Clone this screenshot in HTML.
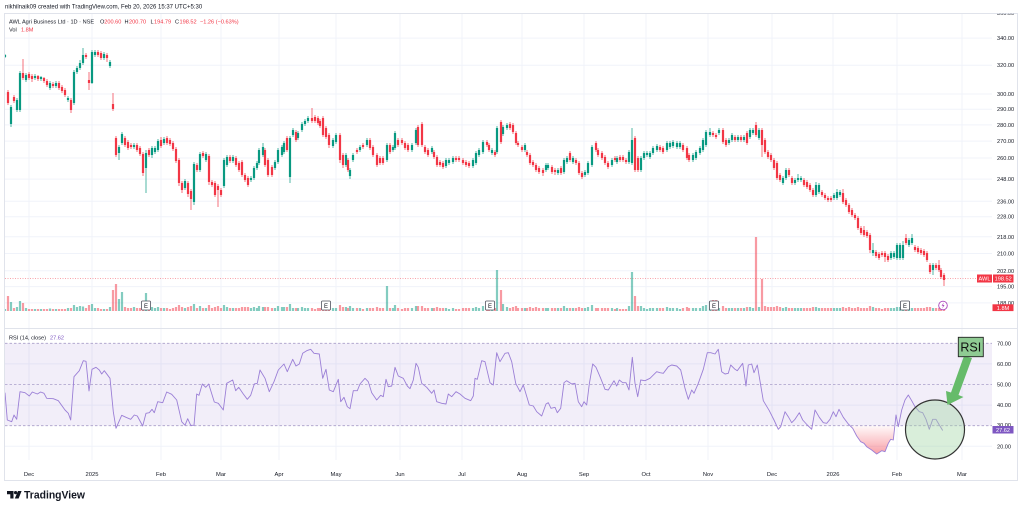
<!DOCTYPE html>
<html><head><meta charset="utf-8"><title>AWL Agri Business Ltd chart</title>
<style>
html,body{margin:0;padding:0;background:#fff;}
body{width:1024px;height:511px;overflow:hidden;}
svg{display:block;}
text{font-family:"Liberation Sans",Arial,sans-serif;}
</style></head><body>
<svg width="1024" height="511" viewBox="0 0 1024 511" xmlns="http://www.w3.org/2000/svg">
<defs>
 <clipPath id="cp1"><rect x="5" y="13.5" width="987" height="315"/></clipPath>
 <clipPath id="cpAx"><rect x="992" y="13.8" width="26" height="315"/></clipPath>
 <linearGradient id="rg" x1="0" y1="425.7" x2="0" y2="456" gradientUnits="userSpaceOnUse">
  <stop offset="0" stop-color="#f23645" stop-opacity="0.03"/>
  <stop offset="1" stop-color="#f23645" stop-opacity="0.5"/>
 </linearGradient>
</defs>
<rect width="1024" height="511" fill="#fff"/>
<text x="5" y="8.6" font-size="6" fill="#131722">nikhilnaik09 created with TradingView.com, Feb 20, 2026 15:37 UTC+5:30</text>

<!-- grid -->
<g stroke="#f0f3fa" stroke-width="1">
 <line x1="29" y1="13.5" x2="29" y2="460"/><line x1="92" y1="13.5" x2="92" y2="460"/>
 <line x1="161" y1="13.5" x2="161" y2="460"/><line x1="221" y1="13.5" x2="221" y2="460"/>
 <line x1="279" y1="13.5" x2="279" y2="460"/><line x1="336" y1="13.5" x2="336" y2="460"/>
 <line x1="400" y1="13.5" x2="400" y2="460"/><line x1="462" y1="13.5" x2="462" y2="460"/>
 <line x1="522" y1="13.5" x2="522" y2="460"/><line x1="584" y1="13.5" x2="584" y2="460"/>
 <line x1="646" y1="13.5" x2="646" y2="460"/><line x1="708" y1="13.5" x2="708" y2="460"/>
 <line x1="772" y1="13.5" x2="772" y2="460"/><line x1="833" y1="13.5" x2="833" y2="460"/>
 <line x1="897" y1="13.5" x2="897" y2="460"/><line x1="962" y1="13.5" x2="962" y2="460"/>
 <line x1="5" y1="38.1" x2="992" y2="38.1"/><line x1="5" y1="65.2" x2="992" y2="65.2"/>
 <line x1="5" y1="94" x2="992" y2="94"/><line x1="5" y1="109.2" x2="992" y2="109.2"/>
 <line x1="5" y1="124.9" x2="992" y2="124.9"/><line x1="5" y1="141.1" x2="992" y2="141.1"/>
 <line x1="5" y1="158" x2="992" y2="158"/><line x1="5" y1="179.1" x2="992" y2="179.1"/>
 <line x1="5" y1="201.3" x2="992" y2="201.3"/><line x1="5" y1="216.7" x2="992" y2="216.7"/>
 <line x1="5" y1="236.8" x2="992" y2="236.8"/><line x1="5" y1="253.5" x2="992" y2="253.5"/>
 <line x1="5" y1="270.8" x2="992" y2="270.8"/><line x1="5" y1="286.6" x2="992" y2="286.6"/>
 <line x1="5" y1="302.9" x2="992" y2="302.9"/>
 <line x1="5" y1="363.9" x2="992" y2="363.9"/><line x1="5" y1="405.1" x2="992" y2="405.1"/>
 <line x1="5" y1="446.3" x2="992" y2="446.3"/>
</g>

<!-- RSI band -->
<rect x="5" y="343.3" width="987" height="82.4" fill="#7e57c2" fill-opacity="0.1"/>
<g stroke="#a99fc9" stroke-width="0.8" stroke-dasharray="2.5,2">
 <line x1="5" y1="343.3" x2="992" y2="343.3"/>
 <line x1="5" y1="384.5" x2="992" y2="384.5"/>
 <line x1="5" y1="425.7" x2="992" y2="425.7"/>
</g>

<!-- price line -->
<line x1="5" y1="278.6" x2="992" y2="278.6" stroke="#f23645" stroke-opacity="0.6" stroke-width="0.7" stroke-dasharray="1,1.5"/>

<g clip-path="url(#cp1)" fill="none">
<!-- volume -->
<path stroke="#089981" stroke-opacity="0.5" stroke-width="2.2" d="M5 311V309M11 311V302M17 311V307M20 311V301M26 311V308M35 311V309M41 311V309M50 311V308.5M56 311V309M68 311V308M74 311V305M77 311V307M80 311V306M83 311V306.5M92 311V304M95 311V308M104 311V309M110 311V307M119 311V299M122 311V292M134 311V307M146 311V293M152 311V307M155 311V308M158 311V307M164 311V308M185 311V308M194 311V304M200 311V306M206 311V308M224 311V305M227 311V307M233 311V308M251 311V308M254 311V307M257 311V308M259 311V306M263 311V307M275 311V308M278 311V306M282 311V307M284 311V307M290 311V304M293 311V308M298 311V308M302 311V307M305 311V308M308 311V308M333 311V308M336 311V308M346 311V307M350 311V306M353 311V308M360 311V308M367 311V308M387 311V286M393 311V308M395 311V305M412 311V308M416 311V306M432 311V308M446 311V308M449 311V309M453 311V308M473 311V308M476 311V307M479 311V308M483 311V306M492 311V308M497 311V270M503 311V304M507 311V307M525 311V308M546 311V308M548 311V308M558 311V308M564 311V306M567 311V308M573 311V308M585 311V308M588 311V307M592 311V305M612 311V308M617 311V308M629 311V306M632 311V272M641 311V306M644 311V308M647 311V309M650 311V308M653 311V308M657 311V308M667 311V307M670 311V308M673 311V308M677 311V308M680 311V309M693 311V308M696 311V308M700 311V308M703 311V306M706 311V305M710 311V302M719 311V308M729 311V308M732 311V308M738 311V308M744 311V308M750 311V307M753 311V308M759 311V307M783 311V308M786 311V307M795 311V308M798 311V308M801 311V308M816 311V307M819 311V308M834 311V308M837 311V308M840 311V308M873 311V307M891 311V308M894 311V308M897 311V307M900 311V307M903 311V306M909 311V308M912 311V308M933 311V308"/>
<path stroke="#f23645" stroke-opacity="0.5" stroke-width="2.2" d="M8 311V296M14 311V308M23 311V303M29 311V309M32 311V309M38 311V309M44 311V309M47 311V309M53 311V309M59 311V309M62 311V309M65 311V309M71 311V308M86 311V308M89 311V305M98 311V308M101 311V309M107 311V309M113 311V290M116 311V284M125 311V307M128 311V308M131 311V308M137 311V308M140 311V308M143 311V305M149 311V308M161 311V308M167 311V308M170 311V309M173 311V308M176 311V307M179 311V305M182 311V307M188 311V307M191 311V306M197 311V308M203 311V308M209 311V305M212 311V308M215 311V307M218 311V306M221 311V308M230 311V308M236 311V308M239 311V308M242 311V307M245 311V307M248 311V307M265 311V307M268 311V307M272 311V308M287 311V307M296 311V308M312 311V308M315 311V309M318 311V308M320 311V308M323 311V306M326 311V307M329 311V307M340 311V305M343 311V307M348 311V308M357 311V308M363 311V309M370 311V308M373 311V308M377 311V307M380 311V308M383 311V308M390 311V308M398 311V308M402 311V309M405 311V308M408 311V308M418 311V306M422 311V306M425 311V308M428 311V308M434 311V308M437 311V307M440 311V308M443 311V308M456 311V309M459 311V309M463 311V308M466 311V308M469 311V308M487 311V308M489 311V308M495 311V308M501 311V290M510 311V308M513 311V307M516 311V306M518 311V308M522 311V308M527 311V308M530 311V307M533 311V308M536 311V307M539 311V308M543 311V308M552 311V308M555 311V308M561 311V308M570 311V308M576 311V308M579 311V307M582 311V308M596 311V308M598 311V308M602 311V308M605 311V308M608 311V308M615 311V309M620 311V309M623 311V309M626 311V309M635 311V296M638 311V306M660 311V308M663 311V308M683 311V308M687 311V307M689 311V308M713 311V300M716 311V300M723 311V306M726 311V308M735 311V308M741 311V308M747 311V307M756 311V237M762 311V279M765 311V306M768 311V307M771 311V307M774 311V307M777 311V306M780 311V307M789 311V308M792 311V308M804 311V308M807 311V308M810 311V308M813 311V307M822 311V308M825 311V308M828 311V308M831 311V308M843 311V307M846 311V308M849 311V307M852 311V308M855 311V308M858 311V307M861 311V308M864 311V308M867 311V308M870 311V306M876 311V308M879 311V308M882 311V309M885 311V308M888 311V308M906 311V308M915 311V308M918 311V308M921 311V308M924 311V308M927 311V307M930 311V307M936 311V308M939 311V308M941 311V307M944 311V307"/>

<!-- green wicks & bodies -->
<path stroke="#089981" stroke-width="0.7" d="M5 54V58M11 105V127M17 98V112M20 71V112M26 73V82M35 74V80M41 76V81M50 81V90M56 81V88M68 96V102M74 70V105M77 66V74M80 60V70M83 48V65M92 50V84M95 50V57M104 52V60M110 60V68M119 145V160M122 132V145M134 143V149M146 150V193M152 146V158M155 146V154M158 139V152M164 137V145M185 179V190M194 162V205M200 152V172M206 152V162M224 158V188M227 155V167M233 155V163M251 176V182M254 166V180M257 161V170M259 148V165M263 143V157M275 160V170M278 148V164M282 145V157M284 141V154M290 136V183M293 128V137M298 131V140M302 122V132M305 119V126M308 116V123M333 138V148M336 133V144M346 153V167M350 168V179M353 153V162M360 145V152M367 138V147M387 143V162M393 145V152M395 131V150M412 143V152M416 128V145M432 146V154M446 158V168M449 158V165M453 156V164M473 158V168M476 151V165M479 148V157M483 140V154M492 148V155M497 126V154M503 125V136M507 123V130M525 143V152M546 163V172M548 163V170M558 168V175M564 158V174M567 156V164M573 156V164M585 170V177M588 161V175M592 145V167M612 158V167M617 156V164M629 150V164M632 128V165M641 156V172M644 151V160M647 151V157M650 151V159M653 146V155M657 144V152M667 141V152M670 141V149M673 140V148M677 141V149M680 141V149M693 153V162M696 150V160M700 146V155M703 138V152M706 130V147M710 128V137M719 128V135M729 138V145M732 133V142M738 135V142M744 135V142M750 128V139M753 128V135M759 128V140M783 176V185M786 168V180M795 178V185M798 174V182M801 176V182M816 182V197M819 183V194M834 193V200M837 189V200M840 190V197M873 243V256M891 251V260M894 251V259M897 243V260M900 243V260M903 241V260M909 238V247M912 234V245M933 263V275"/>
<path stroke="#089981" stroke-width="2.2" d="M5 55V57M11 107V124M17 100V110M20 73V110M26 75V80M35 76V78M41 77V79M50 83V88M56 83V86M68 98V100M74 72V103M77 68V72M80 63V68M83 55V63M92 52V83M95 52V55M104 54V58M110 62V66M119 147V153M122 134V143M134 145V147M146 153V168M152 148V155M155 148V152M158 141V150M164 139V143M185 181V188M194 164V202M200 154V170M206 154V160M224 160V186M227 157V165M233 157V161M251 178V180M254 168V178M257 163V168M259 150V163M263 147V155M275 162V168M278 150V162M282 147V155M284 143V152M290 138V177M293 130V135M298 133V138M302 124V130M305 121V124M308 118V121M333 140V146M336 135V142M346 155V165M350 170V176M353 155V160M360 147V150M367 140V145M387 145V160M393 147V150M395 133V148M412 145V150M416 130V143M432 148V152M446 160V166M449 160V163M453 158V162M473 160V166M476 153V163M479 150V155M483 142V152M492 150V153M497 128V152M503 127V134M507 125V128M525 145V150M546 165V170M548 165V168M558 170V173M564 160V172M567 158V162M573 158V162M585 172V175M588 163V173M592 147V165M612 160V165M617 158V162M629 152V162M632 140V163M641 158V170M644 153V158M647 153V155M650 153V157M653 148V153M657 146V150M667 143V150M670 143V147M673 142V146M677 143V147M680 143V147M693 155V160M696 152V158M700 148V153M703 140V150M706 132V145M710 132V135M719 130V133M729 140V143M732 135V140M738 137V140M744 137V140M750 130V137M753 130V133M759 130V138M783 178V183M786 170V178M795 180V183M798 178V180M801 178V180M816 185V195M819 185V192M834 195V198M837 192V198M840 192V195M873 250V253M891 253V258M894 253V257M897 245V258M900 245V258M903 245V258M909 240V245M912 238V243M933 265V270"/>

<!-- red wicks & bodies -->
<path stroke="#f23645" stroke-width="0.7" d="M8 90V105M14 95V103M23 59V80M29 72V80M32 74V82M38 75V81M44 77V83M47 79V87M53 82V88M59 81V90M62 85V93M65 88V97M71 98V113M86 53V59M89 72V90M98 50V57M101 51V60M107 53V62M113 93V111M116 136V157M125 136V147M128 140V150M131 143V149M137 143V152M140 146V156M143 152V176M149 148V157M161 137V148M167 136V145M170 138V146M173 141V151M176 147V163M179 158V186M182 181V193M188 181V197M191 189V210M197 163V172M203 151V158M209 154V185M212 180V187M215 181V197M218 184V207M221 188V197M230 155V163M236 156V167M239 161V172M242 160V177M245 173V182M248 176V187M265 148V167M268 158V177M272 165V177M287 136V152M296 130V142M312 108V123M315 115V123M318 116V125M320 119V128M323 116V137M326 126V139M329 133V148M340 133V163M343 153V168M348 158V172M357 148V154M363 143V149M370 138V150M373 145V157M377 153V167M380 156V165M383 156V165M390 143V154M398 138V147M402 138V145M405 141V150M408 143V152M418 125V147M422 122V147M425 145V154M428 148V157M434 150V159M437 155V167M440 160V167M443 161V169M456 156V162M459 156V162M463 158V165M466 160V167M469 161V168M487 140V147M489 143V152M495 150V157M501 120V144M510 122V130M513 123V134M516 131V145M518 141V147M522 145V152M527 150V157M530 153V165M533 160V167M536 163V172M539 166V174M543 168V176M552 165V174M555 168V175M561 166V175M570 151V162M576 158V165M579 161V175M582 171V179M596 141V152M598 148V157M602 151V160M605 155V165M608 161V169M615 156V162M620 155V162M623 155V162M626 158V164M635 136V172M638 156V172M660 145V152M663 146V154M683 143V152M687 146V160M689 153V162M713 131V137M716 133V139M723 128V144M726 138V147M735 135V142M741 135V142M747 131V145M756 122V137M762 128V157M765 138V154M768 150V159M771 153V162M774 158V170M777 161V180M780 173V182M789 168V177M792 176V185M804 178V187M807 180V189M810 183V192M813 188V197M822 190V197M825 193V200M828 196V202M831 196V202M843 189V204M846 198V207M849 203V214M852 208V217M855 213V220M858 216V230M861 226V235M864 226V237M867 230V238M870 233V253M876 250V258M879 252V260M882 251V257M885 251V262M888 254V262M906 234V245M915 245V252M918 246V254M921 248V255M924 249V257M927 251V262M930 263V274M936 263V270M939 260V272M941 268V279M944 273V286"/>
<path stroke="#f23645" stroke-width="2.2" d="M8 92V103M14 97V101M23 73V78M29 74V78M32 76V79M38 76V79M44 78V81M47 81V85M53 84V86M59 83V88M62 87V91M65 90V95M71 100V110M86 55V57M89 80V83M98 52V55M101 53V58M107 55V58M113 104V109M116 138V155M125 138V145M128 142V148M131 145V147M137 145V150M140 148V154M143 154V173M149 150V155M161 140V146M167 138V143M170 140V144M173 143V149M176 149V161M179 160V183M182 183V190M188 183V194M191 191V199M197 165V170M203 153V156M209 156V182M212 182V185M215 183V195M218 186V190M221 190V195M230 157V161M236 158V165M239 163V170M242 162V175M245 175V180M248 178V185M265 150V165M268 160V175M272 167V175M287 138V150M296 132V140M312 118V121M315 117V121M318 118V123M320 121V126M323 118V135M326 128V137M329 135V145M340 135V160M343 155V165M348 160V170M357 150V152M363 145V147M370 140V148M373 147V155M377 155V165M380 158V163M383 158V163M390 145V152M398 140V145M402 140V143M405 143V148M408 145V150M418 127V145M422 124V145M425 147V152M428 150V155M434 152V157M437 157V165M440 162V165M443 163V167M456 158V160M459 158V160M463 160V163M466 162V165M469 163V166M487 142V145M489 145V150M495 152V155M501 122V142M510 124V128M513 125V132M516 133V143M518 143V145M522 147V150M527 152V155M530 155V163M533 162V165M536 165V170M539 168V172M543 170V173M552 167V172M555 170V172M561 168V173M570 153V160M576 160V163M579 163V173M582 173V177M596 143V150M598 150V155M602 153V158M605 157V163M608 163V167M615 158V160M620 157V160M623 157V160M626 160V162M635 138V170M638 158V170M660 147V150M663 148V152M683 145V150M687 148V158M689 155V160M713 133V135M716 135V137M723 130V142M726 140V145M735 137V140M741 137V140M747 133V143M756 125V135M762 130V145M765 140V152M768 152V157M771 155V160M774 160V168M777 163V178M780 175V180M789 170V175M792 178V183M804 180V185M807 182V187M810 185V190M813 190V195M822 192V195M825 195V198M828 198V200M831 198V200M843 193V202M846 200V205M849 205V212M852 210V215M855 215V218M858 218V228M861 228V233M864 230V235M867 232V236M870 235V250M876 252V256M879 254V258M882 253V255M885 253V257M888 256V260M906 238V243M915 247V250M918 248V252M921 250V253M924 251V255M927 253V260M930 265V272M936 265V268M939 265V270M941 270V277M944 275V280"/>
</g>

<!-- E markers -->
<g font-size="6" fill="#131722" text-anchor="middle">
 <rect x="141.5" y="301" width="9" height="9" rx="1" fill="#fff" stroke="#50535e" stroke-width="0.8"/><text x="146" y="308">E</text>
 <rect x="321.5" y="301" width="9" height="9" rx="1" fill="#fff" stroke="#50535e" stroke-width="0.8"/><text x="326" y="308">E</text>
 <rect x="485.5" y="301" width="9" height="9" rx="1" fill="#fff" stroke="#50535e" stroke-width="0.8"/><text x="490" y="308">E</text>
 <rect x="709.5" y="301" width="9" height="9" rx="1" fill="#fff" stroke="#50535e" stroke-width="0.8"/><text x="714" y="308">E</text>
 <rect x="900.5" y="301" width="9" height="9" rx="1" fill="#fff" stroke="#50535e" stroke-width="0.8"/><text x="905" y="308">E</text>
</g>
<circle cx="943" cy="305.5" r="4.3" fill="#fff" stroke="#ab47bc" stroke-width="0.9"/>
<path d="M943.8,302.4 L941.6,305.8 L943.1,305.8 L942.2,308.6 L944.5,305 L943,305 Z" fill="#ab47bc"/>

<!-- RSI -->
<path fill="url(#rg)" d="M850,425.7 L852.7,428.3 L856.7,436 L860.7,441.7 L864,443.3 L866.7,446.7 L871.7,450 L876.7,454 L881.7,450.7 L885,451.7 L888.3,443.3 L890.7,439.3 L893.3,440 L895.2,425.7 Z M776,425.7 L778.3,429.3 L780.7,426.7 L781.3,425.7 Z M808.5,425.7 L811.7,429.3 L812.4,425.7 Z M927.5,425.7 L929.3,429.3 L930.8,425.7 Z M938.8,425.7 L939.3,425 L942.7,430.5 L942.7,425.7 Z"/>
<polyline fill="none" stroke="#9b7fd6" stroke-width="0.9" stroke-linejoin="round" points="5,392.7 7.3,420 11.7,421.7 14,415 16.7,419.3 20,391.7 25,392.7 29.3,396 32.3,392 37.3,394 40.7,392 44,393.3 46.7,398.3 53.3,398.7 58.3,400.7 65,410 68.3,413.3 70.7,420 74,376.7 79.3,370.7 83.3,360.7 86,361.3 89,391 92,369.3 96,367.3 99.3,370 101.7,374 104.3,370.7 110,378.3 113.3,411.7 116,428.3 121.7,415.3 126,417.3 130.7,419.3 134.3,415 137.3,416 142.7,426 146,413.3 149.3,412.7 152,409.3 154.3,412.7 157.7,401.7 162.7,402.7 166.7,392 171.7,394.3 176.7,400 181.7,421.7 185,425.3 187.7,418.7 190.7,425.3 194,425.3 196.7,394 199,395.3 202.3,384 205.7,387.3 208.7,384 214.3,402 218.3,403.3 223.3,410 226.7,383.3 232.7,380 235.7,390.7 238.7,387.3 243.3,394 247.3,399.3 250.7,395.3 254.3,384 257.3,383.3 260,370 265,378.3 269.3,391.7 274,381.7 278.3,370 284,364 287.3,371.7 292.7,359.3 296,366 299.3,364 302.7,353.3 306.7,350.7 310.7,349.3 314,353.3 319.3,354 322.7,378.3 326,369.3 329.3,390 333.3,391.7 338.3,379.3 340.7,401.7 344,397.3 347.3,406.7 350,408.7 353.3,390.7 357.3,390.7 360,384 365,378.3 368.3,381.7 371.7,392.7 376.7,400 380.7,395.3 383.3,396.7 386,379.3 388.3,386.7 391.7,386 395,367.3 398.3,376 403.3,378.3 407.3,386 410,388.7 413.3,380 416,363.3 418.3,367.3 421.7,383.3 426.7,387.3 431.7,393.3 434,390 436.7,401.7 441.7,403.3 446,404 448.3,394 451.7,396.7 456,391.7 460,394 465,398.3 470.7,400.7 473.3,396 475,378.3 477.3,379.3 481.7,360.7 485,361.7 490,382.7 493.3,385 496.7,352.7 500,361.7 505,353.3 508.3,352.7 511.7,361.7 515.7,383.3 520,391.7 523.3,385 529.3,405 533.3,406 536.7,411.7 541.7,416 546,404 548.3,402.7 551,408.3 555,407.3 557.3,412.7 560.7,408.3 564,382.7 566.7,380.7 571.7,384 575,383.3 578.3,401.7 581.7,406.7 584,401.7 586.7,405 589.3,384 592.7,364 596,367.3 600.7,378.3 605,389.3 608.3,390 614,380.7 616.7,386 619.3,380 622.7,382.7 626,382.7 629,390 632.3,357.3 635,383.3 637.7,396.7 640.7,380 645,380.7 650,378.3 656.7,371.7 660,372.7 663.3,373.3 668.3,366.7 671.7,365 676.7,366 680.7,370 685,388.3 688.3,399.3 691.7,390 694,393.3 698.3,383.3 703.3,369.3 707.3,352.7 710.7,352.7 715,354 718.3,349.3 721.7,371.7 725,374 728.3,373.3 730.7,365 735,369.3 737.3,370.7 742.7,363.3 746,386 748.3,365 751.7,364 754,372.7 757.3,365 763.3,400.7 769.3,410.7 774,420 778.3,429.3 780.7,426.7 785,411.7 788.3,416.7 791.7,422.7 795,419.3 799.3,412.7 802.7,420 807.3,425 811.7,429.3 815,410 819.3,417.3 823.3,422.7 826.7,423.3 830,419.3 833.3,411.7 836,416.7 839,409.3 843.3,417.3 848.3,424 852.7,428.3 856.7,436 860.7,441.7 864,443.3 866.7,446.7 871.7,450 876.7,454 881.7,450.7 885,451.7 888.3,443.3 890.7,439.3 893.3,440 896,415 898.3,426.7 901.7,410 905,400 908.3,395 911.7,400.7 915,406.7 919.3,411.7 922.7,412.7 926,419.3 929.3,429.3 932.7,419.3 936,419.3 939.3,425 942.7,430.5"/>

<!-- annotation -->
<circle cx="935" cy="429.5" r="29.5" fill="#a5d6a7" fill-opacity="0.42" stroke="#333" stroke-width="1.2"/>
<polygon points="964,356 972,358 958.5,395 963.5,397 947.5,405 946,391 951,392.5" fill="#66bb6a"/>
<rect x="958.3" y="337.3" width="25" height="19.4" fill="#8fcb93" stroke="#222" stroke-width="0.9"/>
<text x="970.8" y="351.4" font-size="12.5" text-anchor="middle" fill="#111">RSI</text>

<!-- frame -->
<rect x="4.5" y="13.5" width="1013" height="467" fill="none" stroke="#e0e3eb" stroke-width="1"/>
<line x1="5" y1="328.5" x2="1017" y2="328.5" stroke="#e0e3eb" stroke-width="1"/>

<!-- legend -->
<g font-size="5.6" fill="#131722">
 <text x="9" y="23.6">AWL Agri Business Ltd · 1D · NSE</text>
 <text x="100" y="23.6">O</text><text x="104.3" y="23.6" fill="#f23645">200.60</text>
 <text x="124.5" y="23.6">H</text><text x="129" y="23.6" fill="#f23645">200.70</text>
 <text x="150.5" y="23.6">L</text><text x="154" y="23.6" fill="#f23645">194.79</text>
 <text x="175" y="23.6">C</text><text x="179.5" y="23.6" fill="#f23645">198.52</text>
 <text x="200" y="23.6" fill="#f23645">−1.26 (−0.63%)</text>
 <text x="9" y="31.6">Vol</text><text x="21" y="31.6" fill="#f23645">1.8M</text>
 <text x="9" y="339.4">RSI (14, close)</text><text x="50" y="339.4" fill="#7e57c2">27.62</text>
</g>

<!-- price axis -->
<g font-size="5.6" fill="#131722" clip-path="url(#cpAx)">
 <text x="997" y="15">360.00</text>
 <text x="997" y="40.1">340.00</text>
 <text x="997" y="67.2">320.00</text>
 <text x="997" y="96">300.00</text>
 <text x="997" y="111.2">290.00</text>
 <text x="997" y="126.9">280.00</text>
 <text x="997" y="143.1">270.00</text>
 <text x="997" y="160">260.00</text>
 <text x="997" y="181.1">248.00</text>
 <text x="997" y="203.3">236.00</text>
 <text x="997" y="218.7">228.00</text>
 <text x="997" y="238.8">218.00</text>
 <text x="997" y="255.5">210.00</text>
 <text x="997" y="272.8">202.00</text>
 <text x="997" y="288.6">195.00</text>
 <text x="997" y="304.9">188.00</text>
</g>
<rect x="977" y="274.5" width="15" height="8" fill="#f23645"/>
<rect x="993" y="274.5" width="20.5" height="8" fill="#f23645"/>
<rect x="992.5" y="304.3" width="21" height="6.8" fill="#f23645"/>
<g font-size="5.6" fill="#fff" text-anchor="middle">
 <text x="984.5" y="280.6">AWL</text>
 <text x="1003.2" y="280.6">198.52</text>
 <text x="1003" y="309.8">1.8M</text>
</g>

<!-- RSI axis -->
<g font-size="5.6" fill="#131722">
 <text x="997" y="345.3">70.00</text>
 <text x="997" y="365.9">60.00</text>
 <text x="997" y="386.5">50.00</text>
 <text x="997" y="407.1">40.00</text>
 <text x="997" y="426.8">30.00</text>
 <text x="997" y="448.3">20.00</text>
</g>
<rect x="992.5" y="426" width="21" height="7.5" fill="#7e57c2"/>
<text x="1003" y="431.8" font-size="5.6" fill="#fff" text-anchor="middle">27.62</text>

<!-- time axis -->
<g font-size="5.8" fill="#131722" text-anchor="middle">
 <text x="29" y="476">Dec</text><text x="92" y="476">2025</text>
 <text x="161" y="476">Feb</text><text x="221" y="476">Mar</text>
 <text x="279" y="476">Apr</text><text x="336" y="476">May</text>
 <text x="400" y="476">Jun</text><text x="462" y="476">Jul</text>
 <text x="522" y="476">Aug</text><text x="584" y="476">Sep</text>
 <text x="646" y="476">Oct</text><text x="708" y="476">Nov</text>
 <text x="772" y="476">Dec</text><text x="833" y="476">2026</text>
 <text x="897" y="476">Feb</text><text x="962" y="476">Mar</text>
</g>

<!-- TradingView logo -->
<path d="M7,491 H13.5 V498.5 H10.3 V494.2 H7 Z" fill="#131722"/>
<circle cx="15.6" cy="492.6" r="1.6" fill="#131722"/>
<polygon points="18,491 21.6,491 18.6,498.5 14.8,498.5" fill="#131722"/>
<text x="24" y="498.6" font-size="11" font-weight="bold" fill="#131722" textLength="61" lengthAdjust="spacingAndGlyphs">TradingView</text>
</svg>
</body></html>
